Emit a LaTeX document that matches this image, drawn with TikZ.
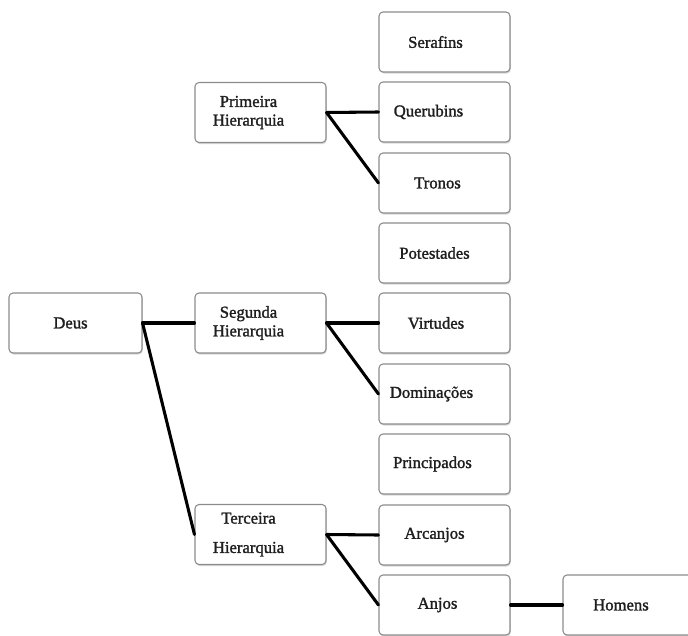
\documentclass[tikz,border=0pt]{standalone}
\usepackage{fontspec}
\setmainfont{Liberation Serif}
\newfontfamily\boxfont{Liberation Serif}[FakeBold=1.5]
\usetikzlibrary{shadows}
\definecolor{boxgray}{HTML}{8C8C8C}
\definecolor{textdark}{HTML}{1E1E1E}
\newcommand\sh[1]{\hspace*{#1}}
\tikzset{
  box/.style={draw=boxgray, line width=0.8pt, rounded corners=3pt, fill=white,
    minimum width=98.25pt, minimum height=45pt, inner sep=0pt,
    font=\boxfont\fontsize{12.5}{14}\selectfont, text=textdark, align=center,
    drop shadow={shadow xshift=0.6pt, shadow yshift=-1.2pt, opacity=0.3}},
  widebox/.style={minimum width=99.75pt},
  link/.style={line width=2.3pt, black, line cap=round}
}
\begin{document}
\begin{tikzpicture}[x=0.75pt, y=-0.75pt]
\useasboundingbox[fill=white] (0,0) rectangle (688,635);
% first level
\node[box, widebox] (deus) at (75.5,323) {\sh{-7.5pt}Deus};
% hierarchies
\node[box] (prim) at (260.5,112.5) {\sh{-18pt}Primeira\\\sh{-18pt}Hierarquia};
\node[box] (seg) at (260.5,323) {\sh{-18pt}Segunda\\\sh{-18pt}Hierarquia};
\node[box] (terc) at (260.5,534.5) {\sh{-18pt}Terceira\\[8pt]\sh{-18pt}Hierarquia};
% choirs
\node[box] (serafins) at (444.5,42) {\sh{-13.5pt}Serafins};
\node[box] (querubins) at (444.5,112) {\sh{-24pt}Querubins};
\node[box] (tronos) at (444.5,183) {\sh{-10.5pt}Tronos};
\node[box] (potestades) at (444.5,253) {\sh{-15pt}Potestades};
\node[box] (virtudes) at (444.5,323) {\sh{-12.75pt}Virtudes};
\node[box] (dominacoes) at (444.5,394) {\sh{-19.5pt}Dominações};
\node[box] (principados) at (444.5,464) {\sh{-18pt}Principados};
\node[box] (arcanjos) at (444.5,535) {\sh{-15pt}Arcanjos};
\node[box] (anjos) at (444.5,605) {\sh{-10.5pt}Anjos};
\node[box] (homens) at (628.5,605) {\sh{-11.25pt}Homens};
% connectors
\draw[link] (deus.east) -- (seg.west);
\draw[link] (deus.east) -- (terc.west);
\draw[link] (prim.east) -- (querubins.west);
\draw[link] (prim.east) -- (tronos.west);
\draw[link] (seg.east) -- (virtudes.west);
\draw[link] (seg.east) -- (dominacoes.west);
\draw[link] (terc.east) -- (arcanjos.west);
\draw[link] (terc.east) -- (anjos.west);
\draw[link] (anjos.east) -- (homens.west);
\end{tikzpicture}
\end{document}
